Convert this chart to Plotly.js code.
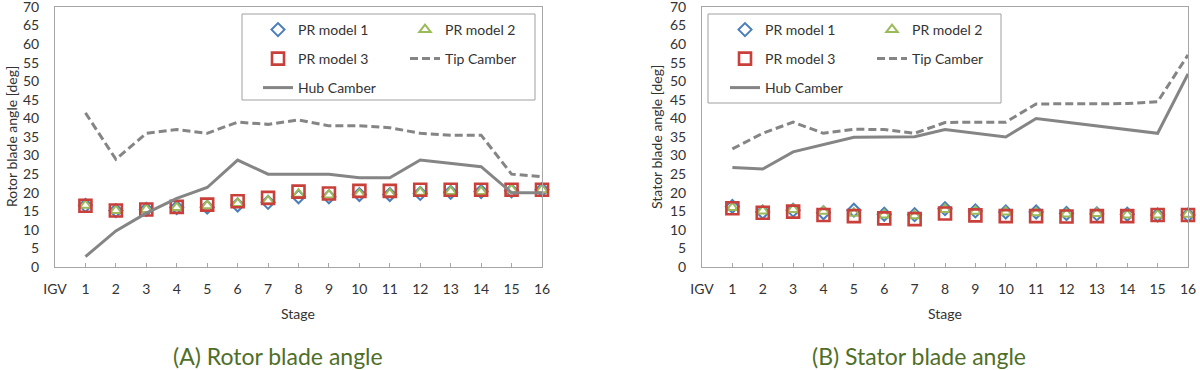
<!DOCTYPE html>
<html>
<head>
<meta charset="utf-8">
<script src="https://cdn.plot.ly/plotly-3.0.1.min.js"></script>
<style>html,body{margin:0;padding:0;background:#fff;}#chart{width:1200px;height:370px;}</style>
</head>
<body>
<div id="chart"></div>
<script>
// ---------- data ----------
const stages = [1,2,3,4,5,6,7,8,9,10,11,12,13,14,15,16];
const tickValues = [0,1,2,3,4,5,6,7,8,9,10,11,12,13,14,15,16];
const tickLabels = ['IGV','1','2','3','4','5','6','7','8','9','10','11','12','13','14','15','16'];
const yTickValues = [0,5,10,15,20,25,30,35,40,45,50,55,60,65,70];

// (A) Rotor blade angle
const rotorPR1 = [16.6,15.2,15.5,16.0,16.1,16.7,17.4,18.9,18.9,19.5,19.5,19.8,20.1,20.3,20.5,20.8];
const rotorPR2 = [16.6,15.2,15.5,16.0,16.5,17.1,17.8,19.6,19.4,19.6,19.7,20.1,20.3,20.3,20.8,20.8];
const rotorPR3 = [16.5,15.2,15.5,16.2,16.8,17.7,18.6,20.3,19.8,20.5,20.5,20.8,20.8,20.8,20.8,20.8];
const rotorTip = [41.5,29.0,36.0,37.0,36.0,39.0,38.4,39.6,38.0,38.0,37.5,36.0,35.5,35.5,25.0,24.3];
const rotorHub = [2.8,9.7,14.5,18.5,21.4,28.8,25.0,25.0,25.0,24.0,24.0,28.8,27.9,27.0,20.0,20.0];

// (B) Stator blade angle
const statorPR1 = [16.3,14.8,15.3,14.6,15.3,14.2,14.1,15.7,15.1,14.8,14.8,14.4,14.3,14.2,14.0,14.0];
const statorPR2 = [16.0,15.1,15.5,15.0,14.5,14.0,13.8,15.5,15.0,14.8,14.6,14.3,14.4,14.0,14.0,14.2];
const statorPR3 = [15.8,14.6,14.9,14.0,13.7,13.1,12.9,14.4,13.9,13.7,13.7,13.6,13.7,13.7,14.0,14.0];
const statorTip = [31.8,36.0,39.0,36.0,37.1,37.0,36.0,38.9,39.0,39.0,43.9,44.0,44.0,44.0,44.5,57.1];
const statorHub = [26.8,26.4,31.0,33.0,34.9,35.0,35.1,37.0,36.0,35.0,40.0,39.0,38.0,37.0,36.0,52.0];

const seriesNames = ['PR model 1','PR model 2','PR model 3','Tip Camber','Hub Camber'];
const captions = ['(A) Rotor blade angle','(B) Stator blade angle'];
const yTitles = ['Rotor blade angle [deg]','Stator blade angle [deg]'];
const xTitle = 'Stage';

// ---------- styles ----------
const W = 1200, H = 370;
const px = v => v / W;
const py = v => (H - v) / H;
const BLUE = '#4a7ebb', GREEN = '#9bbb59', RED = '#c9403b', GRAY = '#858585';
const FONT = 'Lato, "Open Sans", sans-serif';
const TXT = '#333333';

function makeTraces(xa, ya, pr1, pr2, pr3, tip, hub, legs) {
  return [
    {x: stages, y: pr1, name: seriesNames[0], xaxis: xa, yaxis: ya, legend: legs[0], mode: 'markers', cliponaxis: false,
     marker: {symbol: 'diamond-open', size: 10, color: BLUE, line: {width: 2, color: BLUE}}},
    {x: stages, y: pr2, name: seriesNames[1], xaxis: xa, yaxis: ya, legend: legs[0], mode: 'markers', cliponaxis: false,
     marker: {symbol: 'triangle-up-open', size: 10, color: GREEN, line: {width: 2, color: GREEN}}},
    {x: stages, y: pr3, name: seriesNames[2], xaxis: xa, yaxis: ya, legend: legs[1], mode: 'markers', cliponaxis: false,
     marker: {symbol: 'square-open', size: 12, color: RED, line: {width: 2.6, color: RED}}},
    {x: stages, y: tip, name: seriesNames[3], xaxis: xa, yaxis: ya, legend: legs[1], mode: 'lines', cliponaxis: false,
     line: {color: GRAY, width: 3, dash: '8px,4px'}},
    {x: stages, y: hub, name: seriesNames[4], xaxis: xa, yaxis: ya, legend: legs[2], mode: 'lines', cliponaxis: false,
     line: {color: GRAY, width: 3}}
  ];
}

const data = [
  ...makeTraces('x', 'y', rotorPR1, rotorPR2, rotorPR3, rotorTip, rotorHub, ['legend','legend2','legend3']),
  ...makeTraces('x2', 'y2', statorPR1, statorPR2, statorPR3, statorTip, statorHub, ['legend4','legend5','legend6'])
];

function xAxis(domain, anchor) {
  return {domain: domain, anchor: anchor, range: [0, 16], tickmode: 'array', tickvals: tickValues, ticktext: tickLabels,
    showline: true, mirror: true, linecolor: '#a6a6a6', linewidth: 1, showgrid: false, zeroline: false,
    ticks: 'inside', ticklen: 4, tickcolor: '#a6a6a6', ticklabelstandoff: 9, ticklabeloverflow: 'allow',
    tickfont: {family: FONT, size: 14, color: TXT}, fixedrange: true};
}
function yAxis(anchor) {
  return {domain: [py(267), py(7)], anchor: anchor, range: [0, 70], tickmode: 'array', tickvals: yTickValues,
    showline: true, mirror: true, linecolor: '#a6a6a6', linewidth: 1, showgrid: false, zeroline: false,
    ticks: '', ticklabelstandoff: 12, ticklabeloverflow: 'allow',
    tickfont: {family: FONT, size: 14, color: TXT}, fixedrange: true};
}

function legendRow(xLeft, yTop) {
  return {x: px(xLeft), y: py(yTop), xanchor: 'left', yanchor: 'top', orientation: 'h',
    entrywidth: 102, entrywidthmode: 'pixels', bgcolor: 'rgba(0,0,0,0)', borderwidth: 0,
    font: {family: FONT, size: 14, color: TXT}, traceorder: 'normal'};
}

function note(text, x, y, size, color, angle) {
  return {text: text, xref: 'paper', yref: 'paper', x: px(x), y: py(y), xanchor: 'center', yanchor: 'middle',
    textangle: angle || 0, showarrow: false, font: {family: FONT, size: size, color: color}};
}

const rows = [14, 43, 72];
const layout = {
  width: W, height: H, margin: {l: 0, r: 0, t: 0, b: 0},
  paper_bgcolor: '#ffffff', plot_bgcolor: '#ffffff', showlegend: true,
  xaxis: xAxis([px(55), px(542)], 'y'),
  yaxis: yAxis('x'),
  xaxis2: xAxis([px(702), px(1188)], 'y2'),
  yaxis2: yAxis('x2'),
  legend: legendRow(258, rows[0]), legend2: legendRow(258, rows[1]), legend3: legendRow(258, rows[2]),
  legend4: legendRow(725, rows[0]), legend5: legendRow(725, rows[1]), legend6: legendRow(725, rows[2]),
  shapes: [
    {type: 'rect', xref: 'paper', yref: 'paper', x0: px(242), x1: px(535), y0: py(100), y1: py(14), line: {color: '#a0a0a0', width: 1}},
    {type: 'rect', xref: 'paper', yref: 'paper', x0: px(708), x1: px(1001), y0: py(103), y1: py(14), line: {color: '#a0a0a0', width: 1}}
  ],
  annotations: [
    note(yTitles[0], 11, 137, 14, TXT, -90),
    note(yTitles[1], 656, 137, 14, TXT, -90),
    note(xTitle, 298, 313, 14, TXT),
    note(xTitle, 945, 313, 14, TXT),
    note(captions[0], 278, 356, 23, '#4f6f28'),
    note(captions[1], 919, 356, 23, '#4f6f28')
  ]
};

Plotly.newPlot('chart', data, layout, {staticPlot: true, displayModeBar: false});
</script>
</body>
</html>
